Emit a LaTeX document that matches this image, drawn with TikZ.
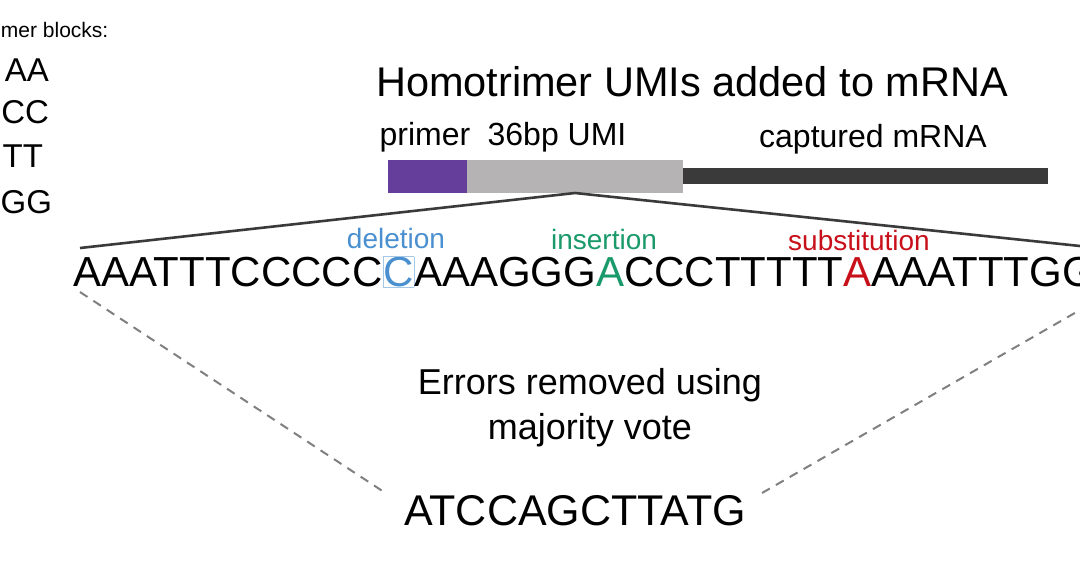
\documentclass[tikz,border=0pt]{standalone}
\usepackage{fontspec}
\setmainfont{Liberation Sans}
\usetikzlibrary{positioning}
\definecolor{primerpurple}{HTML}{653E9B}
\definecolor{umigray}{HTML}{B5B3B3}
\definecolor{mrnadark}{HTML}{3A3A3A}
\definecolor{delblue}{HTML}{4A90D0}
\definecolor{insgreen}{HTML}{1A9A6A}
\definecolor{subred}{HTML}{C8101A}
\newcommand{\fs}[1]{\fontsize{#1}{1.15\dimexpr#1pt\relax}\selectfont}
\begin{document}
\begin{tikzpicture}[x=1pt, y=-1pt,
    every node/.style = {inner sep=0pt, outer sep=0pt},
    label/.style = {font=\fs{32}},
    error/.style = {font=\fs{28}},
    trimer/.style = {font=\fs{33}, anchor=east},
    zoom/.style = {draw=mrnadark, line width=2.6pt},
    vote/.style = {draw=gray, line width=2pt, dash pattern=on 9pt off 7pt}]
    \useasboundingbox (0,0) rectangle (1080,574);
    % trimer blocks
    \node[font=\fs{21}, anchor=west] (blocks) at (1,30) {mer blocks:};
    \node[trimer] (aaa) at (49,70) {AA};
    \node[trimer] (ccc) at (49,112) {CC};
    \node[trimer] (ttt) at (43,156) {TT};
    \node[trimer] (ggg) at (52,202) {GG};
    % construct
    \node[font=\fs{41.5}] (title) at (692,82) {Homotrimer UMIs added to mRNA};
    \node[label] (primer) at (425,137) {primer};
    \node[label] (umi) at (557,137) {36bp UMI};
    \node[label] (mrna) at (873,139) {captured mRNA};
    \fill[primerpurple] (388,160) rectangle (467,193);
    \fill[umigray] (467,160) rectangle (683,193);
    \fill[mrnadark] (683,168) rectangle (1048,184);
    \coordinate (umimid) at (575,193);
    % sequence with errors
    \node[font=\fs{42}, anchor=west] (seq) at (73,272) {AAATTTCCCCC{\setlength\fboxsep{0pt}\setlength\fboxrule{0.7pt}\fcolorbox{delblue!50}{white}{\textcolor{delblue}{C}}}AAAGGG\textcolor{insgreen}{A}CCCTTTTT\textcolor{subred}{A}AAATTTGG};
    \node[error, text=delblue] (del) at (396,238) {deletion};
    \node[error, text=insgreen] (ins) at (604,239) {insertion};
    \node[error, text=subred] (sub) at (859,240) {substitution};
    \coordinate (seqleft) at (80,248);
    \coordinate (seqright) at (1080,246);
    \draw[zoom] (seqleft) -- (umimid) -- (seqright);
    % majority vote
    \node[font=\fs{36}] (errors) at (590,385) {Errors removed using};
    \node[font=\fs{36}] (vote) at (590,430) {majority vote};
    \node[font=\fs{43}] (consensus) at (575,511) {ATCCAGCTTATG};
    \coordinate (dashleft) at (80,292);
    \coordinate (dashright) at (1080,310);
    \draw[vote] (dashleft) -- (387,494);
    \draw[vote] (762,493) -- (dashright);
\end{tikzpicture}
\end{document}
